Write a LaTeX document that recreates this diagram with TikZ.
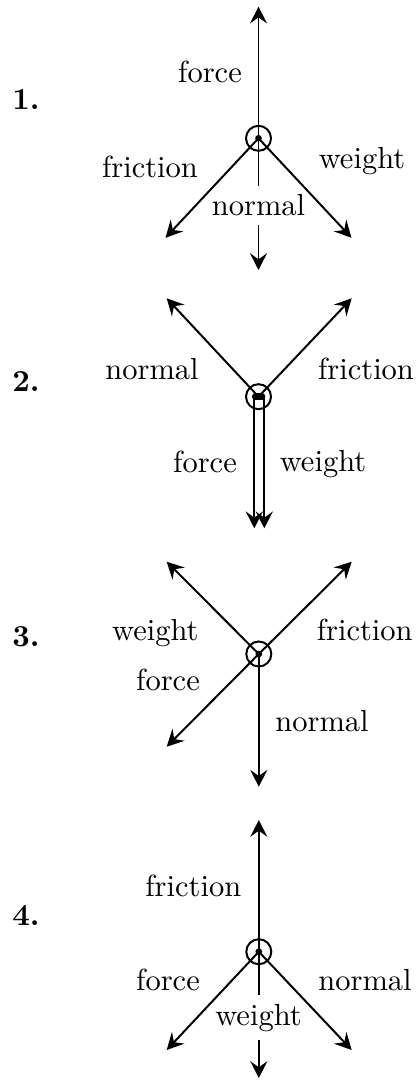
\documentclass[tikz,border=0pt]{standalone}
\usetikzlibrary{arrows.meta}
\tikzset{
    vec/.style={line width=0.65pt, -{Stealth[length=5.5pt, width=5.6pt, inset=2pt]}},
    ring/.style={line width=0.65pt},
    lbl/.style={anchor=base, inner sep=0pt},
    cover/.style={anchor=base, inner xsep=0.5pt, inner ysep=3pt, fill=white},
    num/.style={anchor=base west, inner sep=0pt, font=\bfseries}
}
\begin{document}
\begin{tikzpicture}[x=0.01152cm, y=-0.01152cm]
    \useasboundingbox (0,0) rectangle (418,1080);

    % 1.
    \coordinate (c1) at (258.5,138.3);
    \coordinate (c1u) at (258.5,6.7);
    \coordinate (c1d) at (258.5,270);
    \coordinate (c1l) at (165.5,237.8);
    \coordinate (c1r) at (351.5,237.8);
    \foreach \t in {u,d}
        \draw[vec] (c1) -- (c1\t);
    \node[cover] (no1) at (258.5,216) {normal};
    \foreach \t in {l,r}
        \draw[vec] (c1) -- (c1\t);
    \node[num] (n1) at (11.7,110) {1.};
    \node[lbl] (f1) at (210,83) {force};
    \node[lbl] (fr1) at (150,178) {friction};
    \node[lbl] (w1) at (362,169) {weight};

    % 2.
    \coordinate (c2) at (258.5,396.7);
    \coordinate (c2l) at (166.7,298.3);
    \coordinate (c2r) at (351.7,298.3);
    \coordinate (c2a) at (254.3,396.7);
    \coordinate (c2b) at (264.3,396.7);
    \coordinate (c2da) at (254.3,528.3);
    \coordinate (c2db) at (264.3,528.3);
    \foreach \t in {l,r}
        \draw[vec] (c2) -- (c2\t);
    \draw[vec] (c2a) -- (c2da);
    \draw[vec] (c2b) -- (c2db);
    \node[num] (n2) at (11.7,391.7) {2.};
    \node[lbl] (no2) at (152,380) {normal};
    \node[lbl] (fr2) at (366,380) {friction};
    \node[lbl] (f2) at (205,472) {force};
    \node[lbl] (w2) at (323,471) {weight};

    % 3.
    \coordinate (c3) at (258.8,654);
    \coordinate (c3ul) at (166.7,561.7);
    \coordinate (c3ur) at (351.7,561.7);
    \coordinate (c3dl) at (166.7,746.7);
    \coordinate (c3d) at (258.8,786.7);
    \foreach \t in {ul,ur,dl,d}
        \draw[vec] (c3) -- (c3\t);
    \node[num] (n3) at (11.7,646.7) {3.};
    \node[lbl] (w3) at (155.3,640) {weight};
    \node[lbl] (fr3) at (364.7,640) {friction};
    \node[lbl] (f3) at (168,690) {force};
    \node[lbl] (no3) at (322,731.7) {normal};

    % 4.
    \coordinate (c4) at (258.8,951.7);
    \coordinate (c4u) at (258.8,820);
    \coordinate (c4d) at (258.8,1078);
    \coordinate (c4l) at (166.7,1050);
    \coordinate (c4r) at (351.7,1050);
    \foreach \t in {u,d}
        \draw[vec] (c4) -- (c4\t);
    \node[cover] (w4) at (258.5,1025) {weight};
    \foreach \t in {l,r}
        \draw[vec] (c4) -- (c4\t);
    \node[num] (n4) at (11.7,925) {4.};
    \node[lbl] (fr4) at (193.3,896.7) {friction};
    \node[lbl] (f4) at (168,990) {force};
    \node[lbl] (no4) at (365,990) {normal};

    % rings and dots
    \foreach \c in {c1,c2,c3,c4}
        \draw[ring] (\c) circle[radius=4.1pt];
    \foreach \c in {c1,c3,c4}
        \fill (\c) circle[radius=1.1pt];
    \draw[line width=2.2pt, line cap=round] (255.3,396.7) -- (262,396.7);
\end{tikzpicture}
\end{document}
